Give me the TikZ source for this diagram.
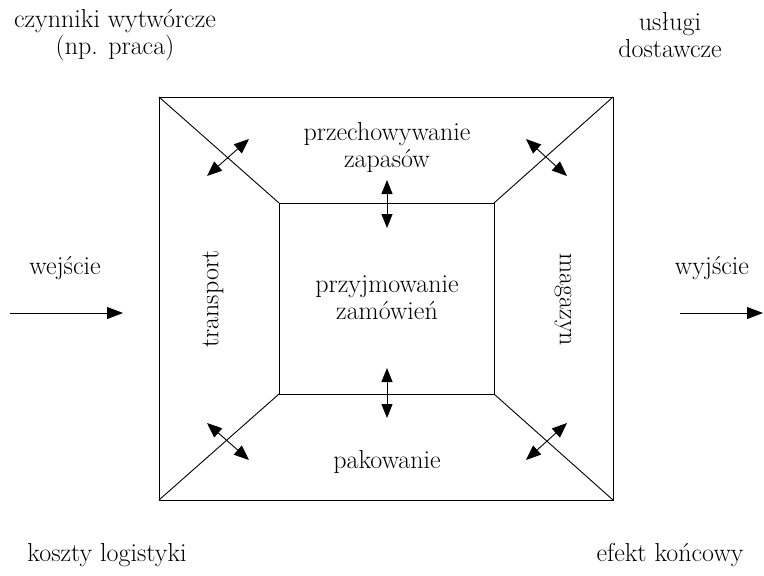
\documentclass[tikz,border=0pt]{standalone}
\usepackage{fontspec}
\usetikzlibrary{arrows.meta}
\tikzset{
  lbl/.style={inner sep=0pt, align=center, font=\fontsize{26}{27}\selectfont},
  edge/.style={line width=0.9pt},
  dbl/.style={line width=0.9pt, {Triangle[length=15pt,width=12pt]}-{Triangle[length=15pt,width=12pt]}},
  vdbl/.style={line width=0.9pt, {Triangle[length=14pt,width=11pt]}-{Triangle[length=14pt,width=11pt]}},
  flow/.style={line width=0.9pt, -{Triangle[length=16pt,width=12pt]}}
}
\begin{document}
\begin{tikzpicture}[x=1pt,y=-1pt]
\useasboundingbox (0,0) rectangle (764,576);
% corners
\coordinate (O1) at (159,97);
\coordinate (O2) at (613,97);
\coordinate (O3) at (613,500);
\coordinate (O4) at (159,500);
\coordinate (I1) at (279,203);
\coordinate (I2) at (494,203);
\coordinate (I3) at (494,394);
\coordinate (I4) at (279,394);
\draw[edge] (O1) -- (O2) -- (O3) -- (O4) -- cycle;
\draw[edge] (I1) -- (I2) -- (I3) -- (I4) -- cycle;
\draw[edge] (O1) -- (I1);
\draw[edge] (O2) -- (I2);
\draw[edge] (O3) -- (I3);
\draw[edge] (O4) -- (I4);
% double arrows
\coordinate (a1) at (207,176); \coordinate (b1) at (249,139);
\coordinate (a2) at (526,139); \coordinate (b2) at (567,176);
\coordinate (a3) at (207,423); \coordinate (b3) at (249,460);
\coordinate (a4) at (567,423); \coordinate (b4) at (526,460);
\coordinate (a5) at (387,180); \coordinate (b5) at (387,228);
\coordinate (a6) at (387,368); \coordinate (b6) at (387,418);
\draw[dbl] (a1) -- (b1);
\draw[dbl] (a2) -- (b2);
\draw[dbl] (a3) -- (b3);
\draw[dbl] (a4) -- (b4);
\draw[vdbl] (a5) -- (b5);
\draw[vdbl] (a6) -- (b6);
% flows
\coordinate (inA) at (10,313); \coordinate (inB) at (123,313);
\coordinate (outA) at (680,313); \coordinate (outB) at (763,313);
\draw[flow] (inA) -- (inB);
\draw[flow] (outA) -- (outB);
% labels
\node[lbl] (czyn) at (115,35) {czynniki wytwórcze\\(np. praca)};
\node[lbl] (usl) at (670,35) {usługi\\dostawcze};
\node[lbl] (wej) at (65,268) {wejście};
\node[lbl] (wyj) at (712,268) {wyjście};
\node[lbl] (kosz) at (107,555) {koszty logistyki};
\node[lbl] (efekt) at (670,555) {efekt końcowy};
\node[lbl] (przech) at (387,148) {przechowywanie\\zapasów};
\node[lbl] (przyj) at (387,298) {przyjmowanie\\zamówień};
\node[lbl] (pak) at (387,462) {pakowanie};
\node[lbl, rotate=90] (trans) at (213,299) {transport};
\node[lbl, rotate=-90] (mag) at (563,300) {magazyn};
\end{tikzpicture}
\end{document}
